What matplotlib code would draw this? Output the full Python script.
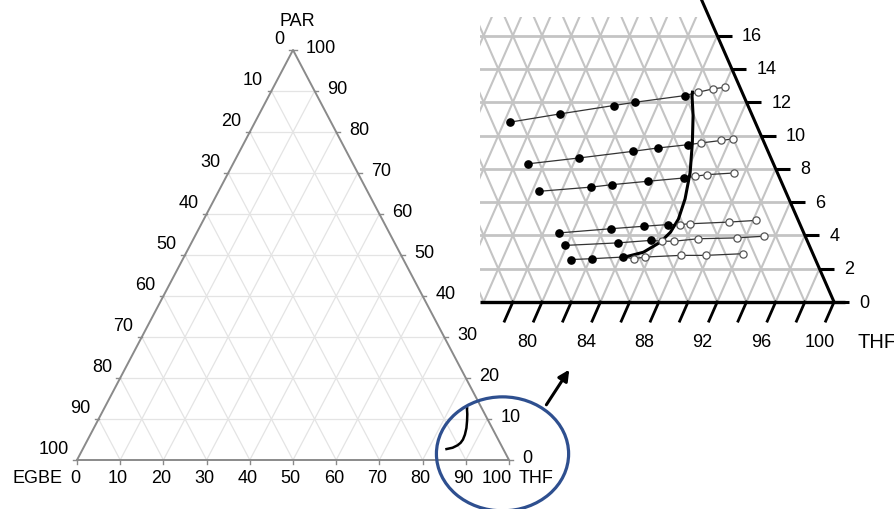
# -*- coding: utf-8 -*-
"""
Ternary phase diagram EGBE / THF / PAR with a zoomed inset of the THF corner
showing the tie lines and the binodal curve.
"""

import matplotlib
matplotlib.use('Agg')
import matplotlib.pyplot as plt
from matplotlib.patches import Ellipse
import numpy as np

plt.rcParams['font.family'] = ['Liberation Sans', 'DejaVu Sans']

# Data (THF %, PAR %)
# tie lines: first n_filled points are filled, the rest are open circles
tie_thf = [
    [72.4, 75.6, 79.0, 80.4, 83.6, 84.4, 85.3, 86.1],
    [74.9, 78.2, 81.7, 83.3, 85.3, 86.1, 87.4, 88.2],
    [76.5, 79.9, 81.3, 83.6, 86.0, 86.7, 87.5, 89.3],
    [79.1, 82.5, 84.7, 86.3, 87.1, 87.8, 90.4, 92.2],
    [79.9, 83.4, 85.6, 86.4, 87.2, 88.8, 91.4, 93.2],
    [80.7, 82.1, 84.2, 85.0, 85.7, 88.1, 89.8, 92.3],
]
tie_par = [
    [10.8, 11.3, 11.8, 12.0, 12.4, 12.6, 12.8, 12.9],
    [8.3, 8.65, 9.05, 9.25, 9.45, 9.55, 9.7, 9.8],
    [6.65, 6.9, 7.05, 7.25, 7.45, 7.55, 7.65, 7.75],
    [4.15, 4.4, 4.55, 4.65, 4.65, 4.7, 4.8, 4.9],
    [3.4, 3.55, 3.7, 3.65, 3.65, 3.8, 3.85, 3.95],
    [2.55, 2.6, 2.7, 2.6, 2.7, 2.8, 2.8, 2.9],
]
n_filled = [5, 5, 5, 4, 3, 3]

# binodal curve
curve_thf = [84.2, 85.45, 86.3, 86.7, 86.85, 86.7, 86.25, 85.5, 84.75, 84.1, 84.0]
curve_par = [2.67, 2.99, 3.59, 4.19, 4.98, 6.19, 7.79, 9.59, 11.19, 12.35, 12.6]

main_ticks = list(range(0, 101, 10))
inset_bottom_ticks = list(range(78, 101, 2))
inset_bottom_labels = list(range(80, 101, 4))
inset_right_ticks = list(range(0, 17, 2))


def tern(thf, par):
    # cartesian position: x = THF + PAR/2, y = PAR
    thf = np.asarray(thf, dtype=float)
    par = np.asarray(par, dtype=float)
    return thf + par / 2, par


fig = plt.figure(figsize=(8.95, 5.10), dpi=100)

# ---------------- main ternary ----------------
ax = fig.add_axes([77 / 895, 49 / 510, 432 / 895, 410 / 510])
ax.set_xlim(0, 100)
ax.set_ylim(0, 100)
ax.axis('off')

grid_c = '#e4e4e4'
for v in range(10, 100, 10):
    # constant PAR
    x, y = tern([0, 100 - v], [v, v])
    ax.plot(x, y, color=grid_c, lw=0.9, zorder=1)
    # constant THF
    x, y = tern([v, v], [0, 100 - v])
    ax.plot(x, y, color=grid_c, lw=0.9, zorder=1)
    # constant EGBE
    x, y = tern([100 - v, 0], [0, 100 - v])
    ax.plot(x, y, color=grid_c, lw=0.9, zorder=1)

edge_c = '#8a8a8a'
x, y = tern([0, 100, 0, 0], [0, 0, 100, 0])
ax.plot(x, y, color=edge_c, lw=1.4, zorder=2, clip_on=False)

fs = 13
for v in main_ticks:
    # bottom axis: THF
    x, y = tern(v, 0)
    ax.plot([x, x], [0, -1.0], color=edge_c, lw=1.0, clip_on=False)
    if v == 100:
        ax.text(x + 0.6, -4.2, str(v), ha='right', va='center', fontsize=fs)
    else:
        ax.text(x - 0.5, -4.2, str(v), ha='center', va='center', fontsize=fs)
    # left edge: EGBE (0 at top, 100 at bottom left)
    x, y = tern(0, 100 - v)
    ax.plot([x, x - 0.9], [y, y], color=edge_c, lw=1.0, clip_on=False)
    ax.text(x - 1.9, y + 2.8, str(v), ha='right', va='center', fontsize=fs)
    # right edge: PAR
    x, y = tern(100 - v, v)
    ax.plot([x, x + 0.9], [y, y], color=edge_c, lw=1.0, clip_on=False)
    ax.text(x + 3.0, y + 0.6, str(v), ha='left', va='center', fontsize=fs)

ax.text(51.0, 107.3, 'PAR', ha='center', va='center', fontsize=fs)
ax.text(-3.4, -4.2, 'EGBE', ha='right', va='center', fontsize=fs)
ax.text(102.3, -4.2, 'THF', ha='left', va='center', fontsize=fs)

x, y = tern(curve_thf, curve_par)
ax.plot(x, y, color='black', lw=1.8, zorder=4, clip_on=False)

# circle around the zoomed corner and arrow to the inset
ax.add_patch(Ellipse((98.5, 1.5), 30.6, 27.8, fill=False, ec='#2e4f8f',
                     lw=2.3, clip_on=False, zorder=5))
ax.annotate('', xy=(114.3, 22.6), xytext=(108.3, 12.9), annotation_clip=False,
            arrowprops=dict(arrowstyle='-|>', color='black', lw=2.2,
                            mutation_scale=16))

# ---------------- inset ----------------
sx, sy = 14.6, 16.65  # pixels per unit
ax2 = fig.add_axes([480 / 895, 150 / 510, 415 / 895, 342 / 510])
x_left = 75.75
ax2.set_xlim(x_left, x_left + 415 / sx)
ax2.set_ylim(-57 / sy, 285 / sy)
ax2.axis('off')
par_top = 285 / sy

g2 = '#c4c4c4'
for p in range(2, 17, 2):
    x, y = tern([x_left - p / 2 - 5, 100 - p], [p, p])
    ax2.plot(x, y, color=g2, lw=2.0, zorder=1)
for t in range(60, 101, 2):
    ptop = min(par_top, 100 - t)
    x, y = tern([t, t], [0, ptop])
    ax2.plot(x, y, color=g2, lw=1.5, zorder=1)
for e in range(2, 45, 2):
    x, y = tern([100 - e, 100 - e - par_top], [0, par_top])
    ax2.plot(x, y, color=g2, lw=1.5, zorder=1)

# axes lines
ax2.plot([x_left, 100.75], [0, 0], color='black', lw=2.4, zorder=3,
         clip_on=False, solid_capstyle='butt')
x, y = tern([100, 100 - 18.3], [0, 18.3])
ax2.plot(x, y, color='black', lw=2.2, zorder=3, clip_on=False)

for t in inset_bottom_ticks:
    x, y = tern([t, t], [0, -1.15])
    ax2.plot(x, y, color='black', lw=2.0, zorder=3, clip_on=False)
for t in inset_bottom_labels:
    x, y = tern(t, -2.2)
    ax2.text(x + 0.1, y - 0.15, str(t), ha='center', va='center', fontsize=13)
ax2.text(102.95, -2.35, 'THF', ha='center', va='center', fontsize=14.5)

for p in inset_right_ticks:
    x, y = tern(100 - p, p)
    ax2.plot([x, x + 1.0], [y, y], color='black', lw=2.2, zorder=3,
             clip_on=False, solid_capstyle='butt')
    ax2.text(x + 1.7, y, str(p), ha='left', va='center', fontsize=13)

# tie lines
for thf, par, nf in zip(tie_thf, tie_par, n_filled):
    x, y = tern(thf, par)
    ax2.plot(x, y, color='#333333', lw=0.9, zorder=4)
    ax2.plot(x[:nf], y[:nf], 'o', color='black', ms=5.2, zorder=6)
    ax2.plot(x[nf:], y[nf:], 'o', mfc='white', mec='#555555', mew=0.9,
             ms=5.2, zorder=6)

x, y = tern(curve_thf, curve_par)
ax2.plot(x, y, color='black', lw=2.2, zorder=5)

plt.savefig('out.png', dpi=100)
